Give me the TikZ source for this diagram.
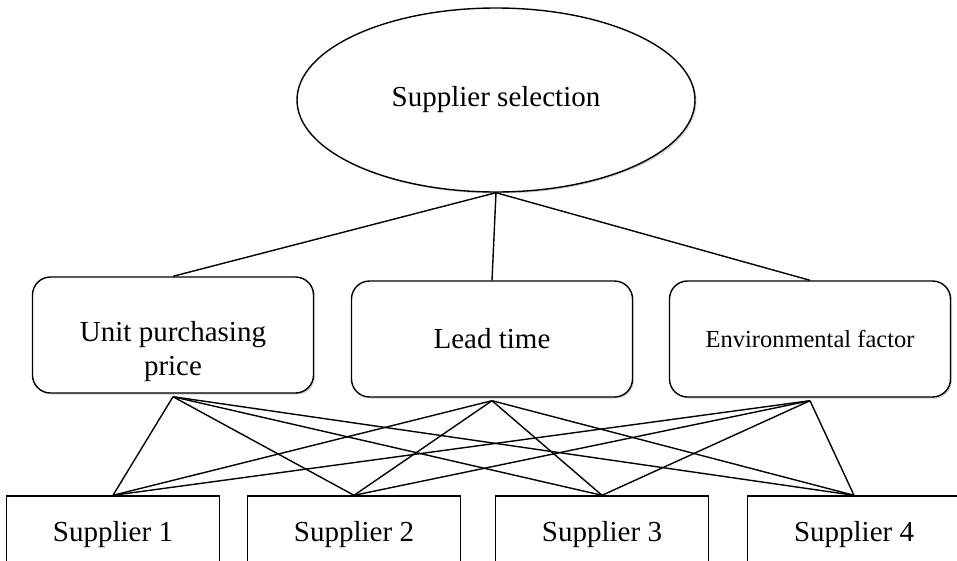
\documentclass[tikz,border=0pt]{standalone}
\usepackage{fontspec}
\setmainfont{Liberation Serif}
\usetikzlibrary{shapes.geometric,shadows}
\begin{document}
\begin{tikzpicture}[x=1pt, y=-1pt, line width=1.4pt,
  every node/.style={font=\fontsize{29}{34}\selectfont},
  boxshadow/.style={drop shadow={shadow xshift=1.5pt,shadow yshift=-1.5pt,fill=black!35}},
  goal/.style={ellipse,draw,fill=white,boxshadow,minimum width=398pt,minimum height=184pt},
  crit/.style={draw,fill=white,rounded corners=18pt,boxshadow,minimum width=281pt,minimum height=116pt,align=center},
  supp/.style={draw,minimum width=213pt,minimum height=78pt}]
\useasboundingbox (0,0) rectangle (957,560);
% goal
\node[goal] (sel) at (496,100) {Supplier selection};
% criteria
\node[crit,label={[name=upptext,align=center,yshift=-17pt]center:Unit purchasing\\price}] (upp) at (173,335) {};
\node[crit] (lead) at (492,339) {Lead time};
\node[crit,font=\fontsize{24.5}{30}\selectfont] (env) at (810,339) {Environmental factor};
% alternatives
\foreach \i/\x in {1/113,2/354,3/602,4/854}
  \node[supp] (s\i) at (\x,535) {Supplier \i};
% links
\foreach \c in {upp,lead,env}
  \draw (sel.south) -- (\c.north);
\foreach \c in {upp,lead,env}
  \foreach \i in {1,...,4}
    \draw ([yshift=-3pt]\c.south) -- (s\i.north);
\end{tikzpicture}
\end{document}
